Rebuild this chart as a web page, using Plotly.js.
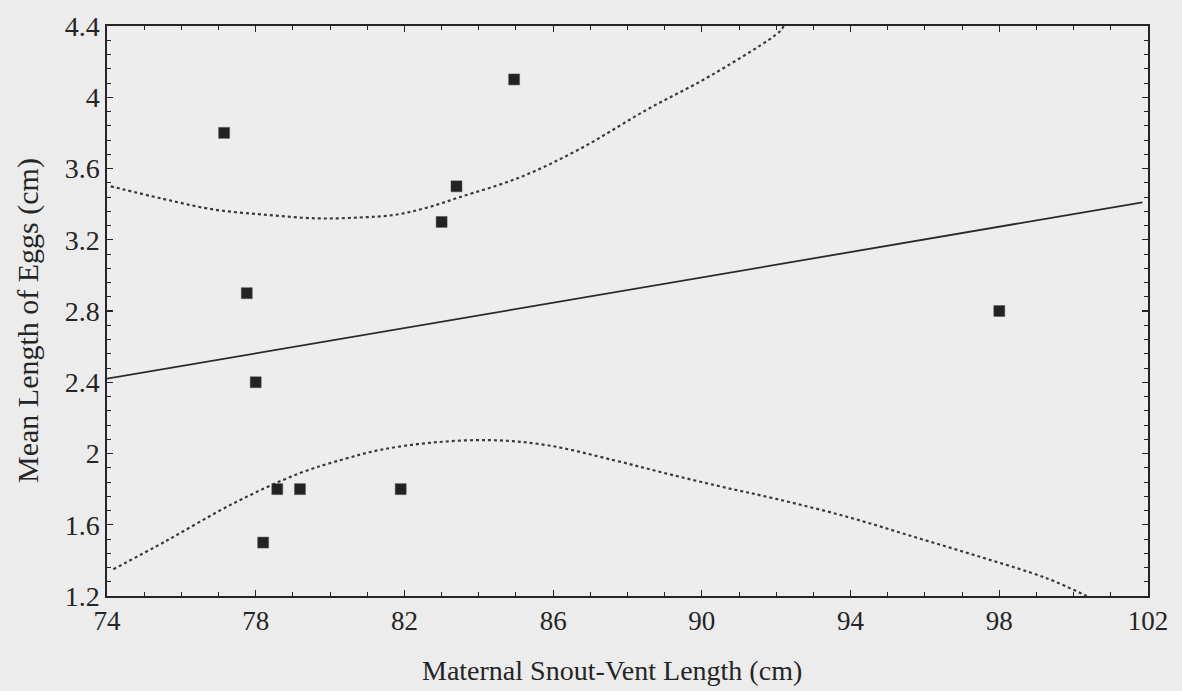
<!DOCTYPE html>
<html>
<head>
<meta charset="utf-8">
<script src="https://cdn.plot.ly/plotly-3.0.1.min.js"></script>
<style>
  html, body { margin: 0; padding: 0; background: #ececec; }
  #chart { width: 1182px; height: 691px; }
</style>
</head>
<body>
<div id="chart"></div>
<script>
// Observed data: maternal snout-vent length (cm) vs mean egg length (cm)
const svl = [77.15, 77.76, 78.0, 78.58, 79.19, 78.2, 81.9, 84.95, 83.4, 83.0, 98.0];
const eggLength = [3.80, 2.90, 2.40, 1.80, 1.80, 1.50, 1.80, 4.10, 3.50, 3.30, 2.80];

// Regression line
const fitX = [74.0, 101.85];
const fitY = [2.42, 3.41];

// Upper confidence band
const upperX = [74.1, 75.5, 76.86, 78.3, 79.64, 80.8, 81.75, 82.6, 83.5, 85.1, 86.72, 88.52, 90.31, 92.1, 92.2];
const upperY = [3.50, 3.43, 3.37, 3.34, 3.32, 3.325, 3.34, 3.38, 3.44, 3.55, 3.71, 3.93, 4.13, 4.37, 4.40];

// Lower confidence band
const lowerX = [74.17, 75.6, 77.4, 79.19, 80.4, 81.34, 82.69, 84.3, 85.83, 87.62, 89.0, 90.5, 92.0, 93.9, 95.69, 97.48, 99.27, 100.35];
const lowerY = [1.35, 1.51, 1.72, 1.89, 1.97, 2.02, 2.06, 2.075, 2.047, 1.963, 1.89, 1.815, 1.745, 1.645, 1.533, 1.42, 1.30, 1.20];

const xTicks = [74, 78, 82, 86, 90, 94, 98, 102];
const yTicks = [1.2, 1.6, 2.0, 2.4, 2.8, 3.2, 3.6, 4.0, 4.4];
const yTickLabels = ['1.2', '1.6', '2', '2.4', '2.8', '3.2', '3.6', '4', '4.4'];
const xTitle = 'Maternal Snout-Vent Length (cm)';
const yTitle = 'Mean Length of Eggs (cm)';

const ink = '#252525';
const font = 'Liberation Serif, Times New Roman, serif';

const traces = [
  { x: upperX, y: upperY, mode: 'lines', line: { color: '#3a3a3a', width: 2.2, dash: 'dot', shape: 'spline' }, hoverinfo: 'skip' },
  { x: lowerX, y: lowerY, mode: 'lines', line: { color: '#3a3a3a', width: 2.2, dash: 'dot', shape: 'spline' }, hoverinfo: 'skip' },
  { x: fitX, y: fitY, mode: 'lines', line: { color: '#2a2a2a', width: 1.8 }, hoverinfo: 'skip' },
  { x: svl, y: eggLength, mode: 'markers', marker: { symbol: 'square', size: 11, color: '#222', line: { color: '#555', width: 0.5 } } }
];

const layout = {
  width: 1182, height: 691,
  margin: { l: 107, r: 34, t: 26, b: 95 },
  paper_bgcolor: '#ececec',
  plot_bgcolor: '#ededed',
  showlegend: false,
  font: { family: font, color: ink, size: 24 },
  xaxis: {
    range: [74, 102],
    tickvals: xTicks,
    ticktext: xTicks.map(String),
    ticks: 'inside', ticklen: 6, tickcolor: ink, tickwidth: 1.2,
    minor: { dtick: 1, ticks: 'inside', ticklen: 4, tickcolor: ink, tickwidth: 1 },
    showline: true, linecolor: ink, linewidth: 1.6, mirror: 'ticks',
    showgrid: false, zeroline: false,
    tickfont: { family: font, size: 27, color: ink }
  },
  yaxis: {
    range: [1.2, 4.4],
    tickvals: yTicks,
    ticktext: yTickLabels,
    ticks: 'inside', ticklen: 6, tickcolor: ink, tickwidth: 1.2,
    minor: { dtick: 0.08, tick0: 1.2, ticks: 'inside', ticklen: 4, tickcolor: ink, tickwidth: 1 },
    showline: true, linecolor: ink, linewidth: 1.6, mirror: 'ticks',
    showgrid: false, zeroline: false,
    tickfont: { family: font, size: 28, color: ink }
  },
  annotations: [
    { text: xTitle, xref: 'paper', yref: 'paper', x: 0.5, y: 0, xanchor: 'center', yanchor: 'middle',
      xshift: -16, yshift: -74, showarrow: false, font: { family: font, size: 28, color: ink } },
    { text: yTitle, xref: 'paper', yref: 'paper', x: 0, y: 0.5, xanchor: 'center', yanchor: 'middle',
      xshift: -79, yshift: -10, textangle: -90, showarrow: false, font: { family: font, size: 30, color: ink } }
  ]
};

Plotly.newPlot('chart', traces, layout, { displayModeBar: false, staticPlot: true });
</script>
</body>
</html>
